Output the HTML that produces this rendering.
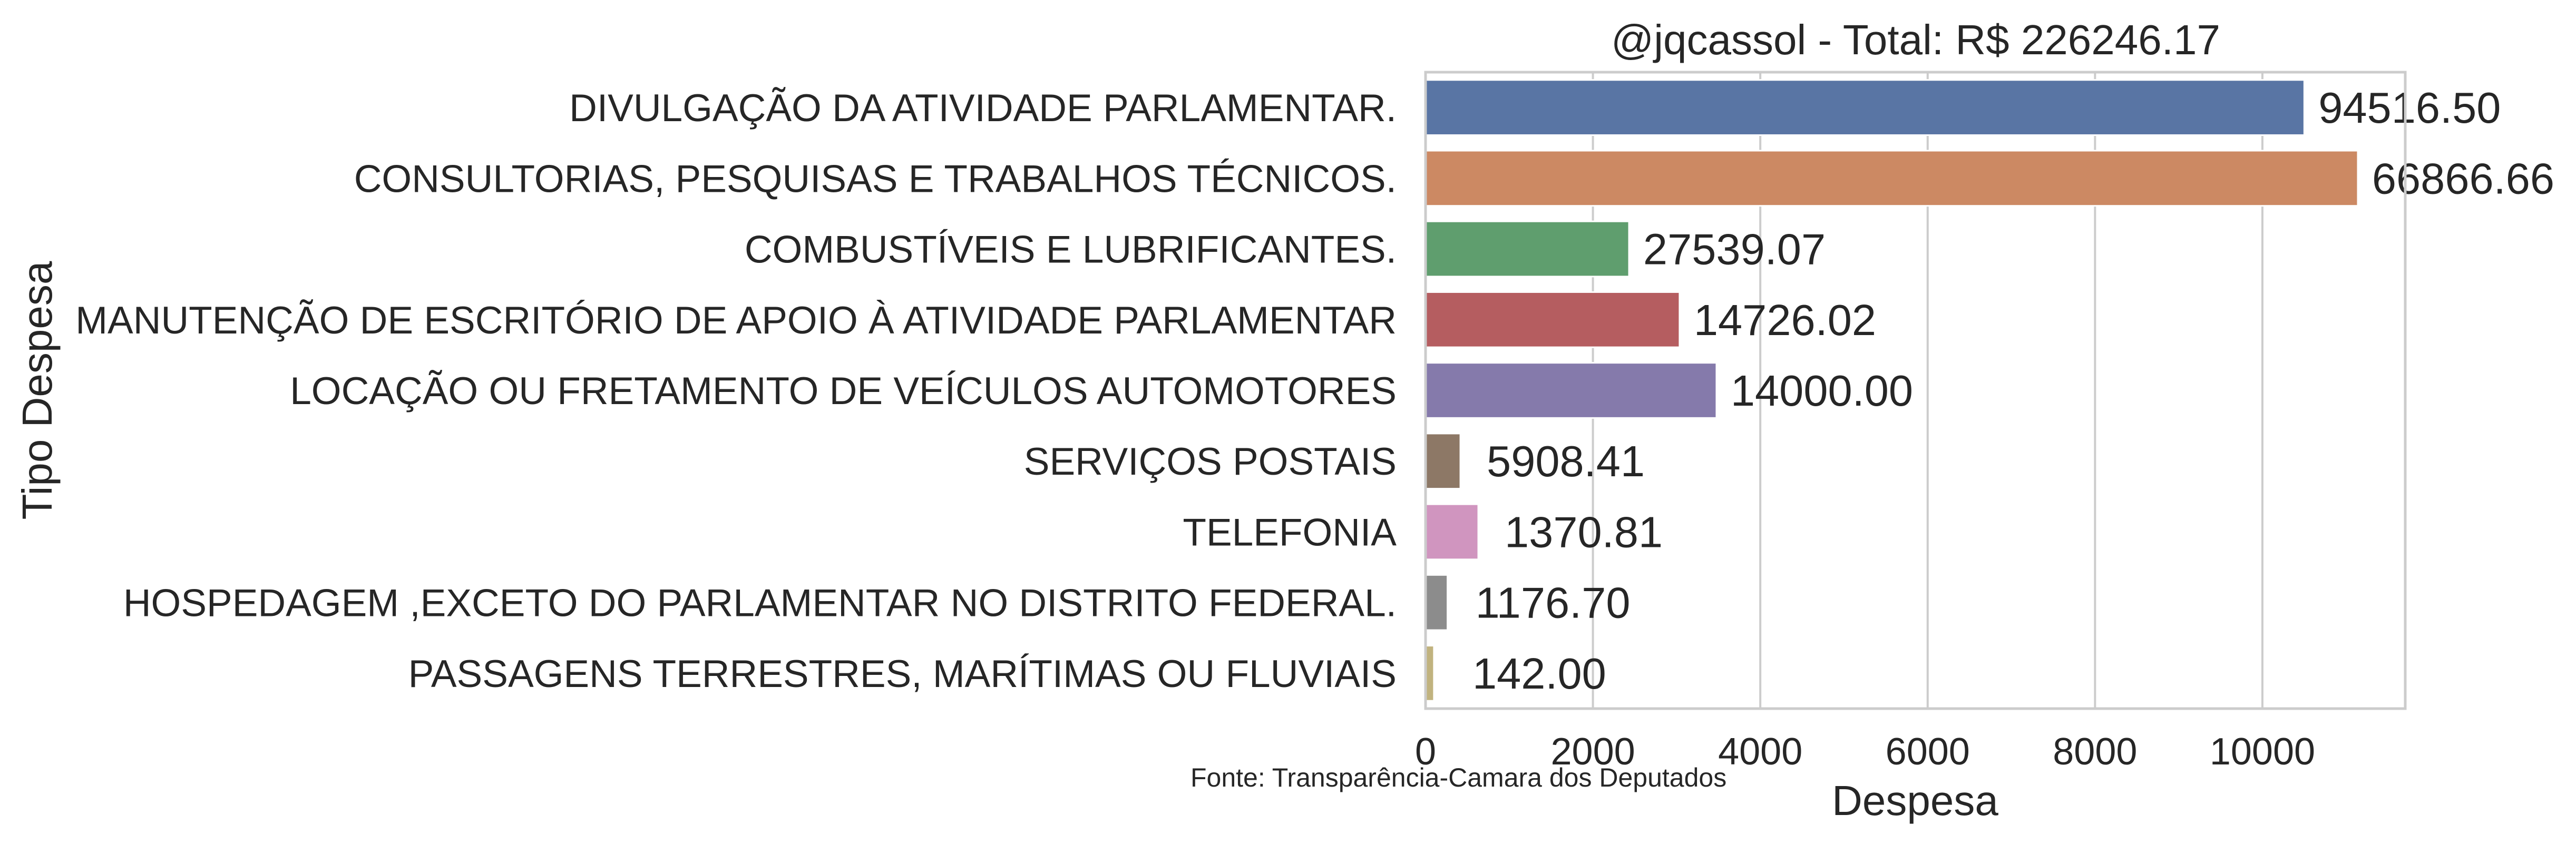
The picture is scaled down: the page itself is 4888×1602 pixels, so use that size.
<!DOCTYPE html>
<html><head><meta charset="utf-8"><style>
html,body{margin:0;padding:0;background:#fff;}
svg{display:block;font-family:"Liberation Sans",Arial,sans-serif;}
</style></head>
<body>
<svg id="chart" xmlns="http://www.w3.org/2000/svg" width="4888" height="1602" viewBox="0 0 4888 1602">
<rect width="4888" height="1602" fill="#fff"/>
<g id="grid"></g>
<g id="bars"></g>
<g id="labels"></g>
<rect x="2705" y="137" width="1859" height="1208" fill="none" stroke="#cccccc" stroke-width="5"/>
<text x="3635" y="103" font-size="80" text-anchor="middle" fill="#262626">@jqcassol - Total: R$ 226246.17</text>
<text x="3634" y="1547" font-size="80" text-anchor="middle" fill="#262626">Despesa</text>
<text transform="translate(98,741) rotate(-90)" font-size="80" text-anchor="middle" fill="#262626">Tipo Despesa</text>
<text x="2259" y="1493" font-size="50" fill="#262626">Fonte: Transparência-Camara dos Deputados</text>
</svg>
<script>
const categories = ["DIVULGAÇÃO DA ATIVIDADE PARLAMENTAR.","CONSULTORIAS, PESQUISAS E TRABALHOS TÉCNICOS.","COMBUSTÍVEIS E LUBRIFICANTES.","MANUTENÇÃO DE ESCRITÓRIO DE APOIO À ATIVIDADE PARLAMENTAR","LOCAÇÃO OU FRETAMENTO DE VEÍCULOS AUTOMOTORES","SERVIÇOS POSTAIS","TELEFONIA","HOSPEDAGEM ,EXCETO DO PARLAMENTAR NO DISTRITO FEDERAL.","PASSAGENS TERRESTRES, MARÍTIMAS OU FLUVIAIS"];
const barValues = [10500, 11140, 2431, 3035, 3476, 416, 630, 262, 100];
const valueLabels = ["94516.50","66866.66","27539.07","14726.02","14000.00","5908.41","1370.81","1176.70","142.00"];
const xTicks = [0, 2000, 4000, 6000, 8000, 10000];
const colors = ["#5975a4","#cc8963","#5f9e6e","#b55d60","#857aab","#8d7866","#d095bf","#8c8c8c","#c1b37f"];

const NS = "http://www.w3.org/2000/svg";
const X0 = 2705, X1 = 4564, XMAX = 11707, Y0 = 137, Y1 = 1345;
const band = (Y1 - Y0) / categories.length;
function xs(v){ return X0 + v / XMAX * (X1 - X0); }
function yc(i){ return Y0 + band * (i + 0.5); }
function mk(tag, attrs, parent){ const e = document.createElementNS(NS, tag); for (const k in attrs) e.setAttribute(k, attrs[k]); parent.appendChild(e); return e; }

const grid = document.getElementById('grid'), bars = document.getElementById('bars'), labels = document.getElementById('labels');
xTicks.forEach(t => {
  const x = xs(t);
  const l = mk('line', {x1:x, x2:x, y1:Y0, y2:Y1, stroke:'#cccccc', 'stroke-width':4}, grid);
  
  
  const tx = mk('text', {x:x, y:1451, 'font-size':72, 'text-anchor':'middle', fill:'#262626'}, labels);
  tx.textContent = t;
  
  
});
categories.forEach((c, i) => {
  const h = band * 0.78;
  const r = mk('rect', {x:xs(0), y:yc(i) - h/2, width:xs(barValues[i]) - xs(0), height:h, fill:colors[i], stroke:'#fff', 'stroke-width':3}, bars);
  
  
  const yl = mk('text', {x:2650, y:yc(i) + 26, 'font-size':73, 'text-anchor':'end', fill:'#262626'}, labels);
  yl.textContent = c;
  
  
  const vl = mk('text', {x:xs(barValues[i]) + 200, y:yc(i) + 29, 'font-size':83, 'text-anchor':'middle', fill:'#262626'}, labels);
  vl.textContent = valueLabels[i];
  
  
});
</script>
</body></html>
